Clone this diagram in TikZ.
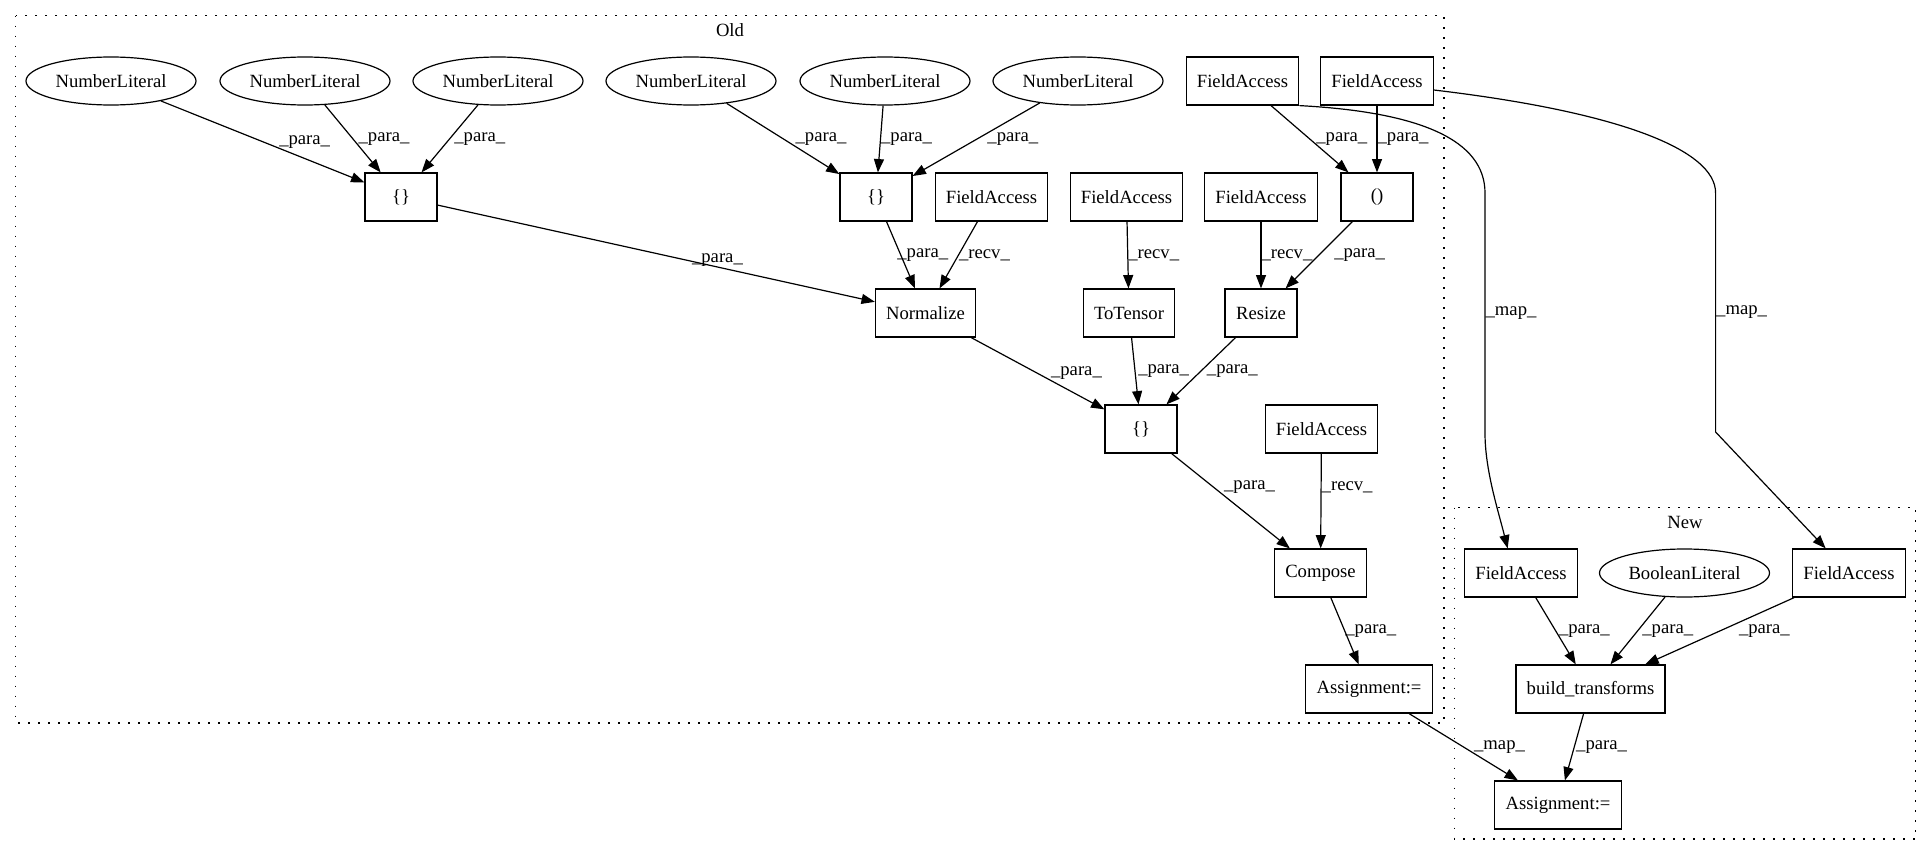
\documentclass[tikz,border=0pt]{standalone}
\usepackage{fontspec}
\setmainfont{Liberation Serif}
\usetikzlibrary{arrows.meta,shapes.geometric}

\begin{document}
\begin{tikzpicture}[x=0.75pt, y=-0.75pt,
		every node/.style={font=\fontsize{14}{16}\selectfont},
		box/.style={draw, line width=0.9pt, rectangle, minimum height=36pt,
			minimum width=54pt, inner xsep=8pt, inner ysep=0pt},
		lit/.style={draw, line width=0.9pt, ellipse, minimum width=127.5pt,
			minimum height=36pt, inner sep=0pt},
		lbl/.style={anchor=west, inner sep=0pt},
		arr/.style={-{Triangle[length=10pt,width=7.5pt]}, line width=0.9pt},
		cluster/.style={line width=1pt, dash pattern=on 1.2pt off 6.3pt}
	]
	\useasboundingbox (0,0) rectangle (1932,856);

	% clusters
	\draw[cluster] (15.6,15.7) rectangle (1444,723);
	\node (oldlbl) at (730,30) {Old};
	\draw[cluster] (1454.4,507.7) rectangle (1915.7,839);
	\node (newlbl) at (1685,522) {New};

	\node[lit] (numlit1) at (111,81) {NumberLiteral};
	\node[lit] (numlit2) at (305,81) {NumberLiteral};
	\node[lit] (numlit3) at (498,81) {NumberLiteral};
	\node[lit] (numlit4) at (691,81) {NumberLiteral};
	\node[lit] (numlit5) at (885,81) {NumberLiteral};
	\node[lit] (numlit6) at (1078,81) {NumberLiteral};
	\node[box] (fieldA) at (1242.5,81) {FieldAccess};
	\node[box] (fieldB) at (1377,81) {FieldAccess};

	\node[box] (set1) at (401,197) {\{\}};
	\node[box] (set2) at (876,197) {\{\}};
	\node[box] (fieldC) at (991.5,197) {FieldAccess};
	\node[box] (fieldD) at (1126.5,197) {FieldAccess};
	\node[box] (fieldE) at (1261,197) {FieldAccess};
	\node[box] (tuple) at (1377,197) {()};

	\node[box] (normalize) at (925.5,313) {Normalize};
	\node[box] (totensor) at (1129,313) {ToTensor};
	\node[box] (resize) at (1261,313) {Resize};

	\node[box] (set3) at (1141,429) {\{\}};
	\node[box] (fieldF) at (1321.5,429) {FieldAccess};

	\node[box] (compose) at (1320.5,573) {Compose};
	\node[box] (assignold) at (1369,689) {Assignment:=};

	% new version
	\node[box] (fieldG) at (1521,573) {FieldAccess};
	\node[lit] (boollit) at (1684.5,573) {BooleanLiteral};
	\node[box] (fieldH) at (1849,573) {FieldAccess};
	\node[box] (build) at (1590.5,689) {build\_transforms};
	\node[box] (assignnew) at (1558,805) {Assignment:=};

	\draw[arr] (numlit1) -- node[lbl, xshift=12pt] {\_para\_} (set1);
	\draw[arr] (numlit2) -- node[lbl, xshift=4pt] {\_para\_} (set1);
	\draw[arr] (numlit3) -- node[lbl, xshift=3pt] {\_para\_} (set1);
	\draw[arr] (numlit4) -- node[lbl, xshift=9pt] {\_para\_} (set2);
	\draw[arr] (numlit5) -- node[lbl] {\_para\_} (set2);
	\draw[arr] (numlit6) -- node[lbl, xshift=8pt] {\_para\_} (set2);
	\draw[arr] (fieldA) -- node[lbl, xshift=4.5pt] {\_para\_} (tuple);
	\draw[arr] (fieldB) -- node[lbl] {\_para\_} (tuple);

	\draw[arr] (set1) -- node[lbl, pos=0.64, anchor=south] {\_para\_} (normalize);
	\draw[arr] (set2) -- node[lbl, xshift=-3pt] {\_para\_} (normalize);
	\draw[arr] (fieldC) -- node[lbl] {\_recv\_} (normalize);
	\draw[arr] (fieldD) -- node[lbl] {\_recv\_} (totensor);
	\draw[arr] (fieldE) -- node[lbl] {\_recv\_} (resize);
	\draw[arr] (tuple) -- node[lbl, xshift=11pt] {\_para\_} (resize);

	\draw[arr] (normalize) -- node[lbl, xshift=9.5pt] {\_para\_} (set3);
	\draw[arr] (totensor) -- node[lbl, xshift=2pt] {\_para\_} (set3);
	\draw[arr] (resize) -- node[lbl, xshift=4pt] {\_para\_} (set3);

	\draw[arr] (set3) -- node[lbl, pos=0.354, xshift=7.5pt] {\_para\_} (compose);
	\draw[arr] (fieldF) -- node[lbl, pos=0.354] {\_recv\_} (compose);
	\draw[arr] (compose) -- node[lbl] {\_para\_} (assignold);

	\draw[arr] (fieldG) -- node[lbl, xshift=2pt] {\_para\_} (build);
	\draw[arr] (boollit) -- node[lbl, xshift=3pt] {\_para\_} (build);
	\draw[arr] (fieldH) -- node[lbl, xshift=14pt] {\_para\_} (build);
	\draw[arr] (build) -- node[lbl, xshift=1pt] {\_para\_} (assignnew);
	\draw[arr] (assignold) -- node[lbl, xshift=7.5pt] {\_map\_} (assignnew);

	% mapping old to new
	\draw[arr] (fieldA.south east) .. controls (1420,112) and (1485,140) .. (1485,193)
		-- node[lbl] {\_map\_} (1485,433)
		.. controls (1485,470) and (1498,510) .. ([xshift=-10pt]fieldG.north);
	\draw[arr] (fieldB.-9) .. controls (1620,112) and (1715.6,150) .. (1715.6,193)
		-- node[lbl] {\_map\_} (1715.6,432)
		-- ([xshift=-17.5pt]fieldH.north);
\end{tikzpicture}
\end{document}
